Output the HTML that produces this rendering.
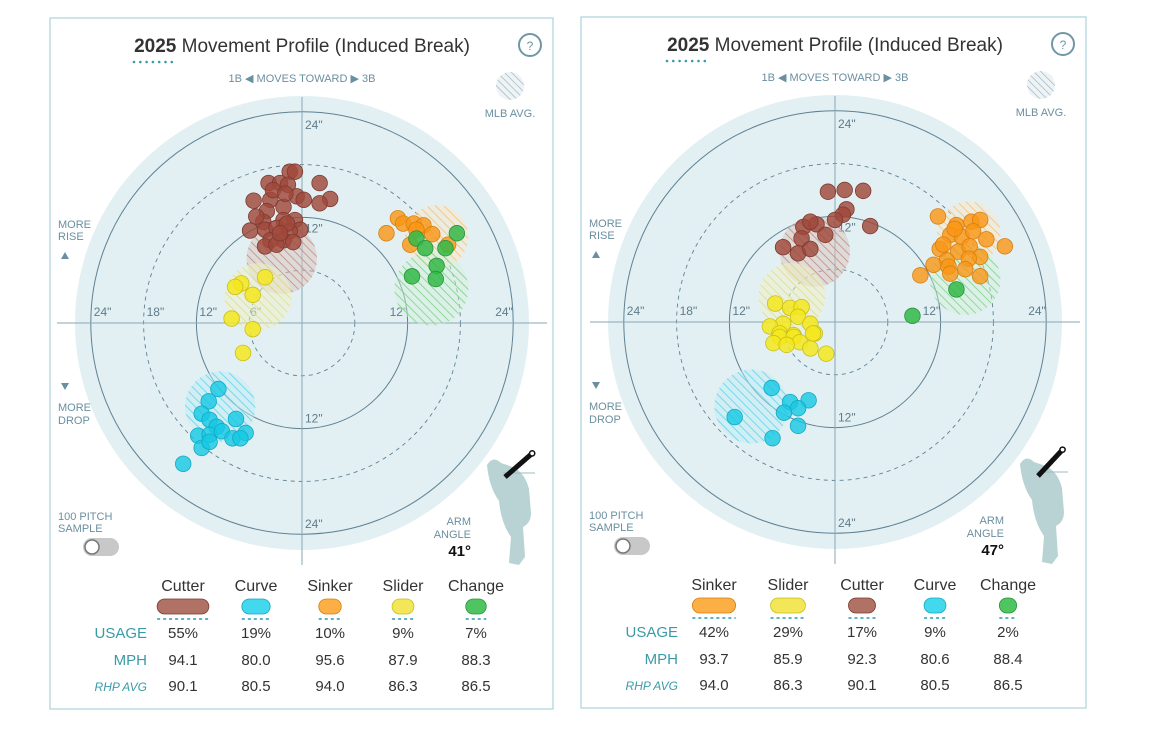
<!DOCTYPE html>
<html><head><meta charset="utf-8">
<style>
html,body{margin:0;padding:0;background:#fff;width:1156px;height:729px;overflow:hidden}
svg{display:block;font-family:"Liberation Sans",sans-serif}
</style></head>
<body>
<svg id="chart" width="1156" height="729" viewBox="0 0 1156 729" xmlns="http://www.w3.org/2000/svg">
<defs>
<pattern id="h-cutter" patternUnits="userSpaceOnUse" width="6" height="6" patternTransform="rotate(-45)"><rect width="6" height="6" fill="rgba(215,190,185,0.45)"/><line x1="0" y1="0" x2="0" y2="6" stroke="#c48a80" stroke-width="1.6"/></pattern>
<pattern id="h-curve" patternUnits="userSpaceOnUse" width="6" height="6" patternTransform="rotate(-45)"><rect width="6" height="6" fill="rgba(190,235,245,0.5)"/><line x1="0" y1="0" x2="0" y2="6" stroke="#5fd3ea" stroke-width="1.6"/></pattern>
<pattern id="h-sinker" patternUnits="userSpaceOnUse" width="6" height="6" patternTransform="rotate(-45)"><rect width="6" height="6" fill="rgba(250,230,200,0.45)"/><line x1="0" y1="0" x2="0" y2="6" stroke="#f5c27a" stroke-width="1.6"/></pattern>
<pattern id="h-slider" patternUnits="userSpaceOnUse" width="6" height="6" patternTransform="rotate(-45)"><rect width="6" height="6" fill="rgba(240,240,200,0.5)"/><line x1="0" y1="0" x2="0" y2="6" stroke="#e3df8a" stroke-width="1.6"/></pattern>
<pattern id="h-change" patternUnits="userSpaceOnUse" width="6" height="6" patternTransform="rotate(-45)"><rect width="6" height="6" fill="rgba(210,240,215,0.45)"/><line x1="0" y1="0" x2="0" y2="6" stroke="#7fd08a" stroke-width="1.6"/></pattern>
<pattern id="h-mlb" patternUnits="userSpaceOnUse" width="5" height="5" patternTransform="rotate(-45)"><rect width="5" height="5" fill="#eef3f5"/><line x1="0" y1="0" x2="0" y2="5" stroke="#9fb6c2" stroke-width="1.4"/></pattern>
</defs>
</svg>
<script>
// ---- data (inches: x horizontal break, y induced vertical break) ----
const leftCutterX=[-1.4,-0.8,2.0,-3.8,-2.5,-1.6,3.2,2.0,-5.5,-3.6,-0.6,0.2,-4.0,-2.1,-4.4,-2.1,-0.8,-0.2,-5.9,-4.2,-2.9,-1.4,-3.6,-2.1,-1.0,-4.2,-2.9,-5.2,-3.3,-1.9,-1.7,-2.5];
const leftCutterY=[17.2,17.2,15.9,15.9,15.9,15.7,14.1,13.6,13.9,14.0,14.4,14.0,12.7,13.2,11.5,11.7,11.7,10.6,10.5,10.6,10.8,10.4,9.4,9.4,9.2,8.7,8.9,12.1,15.1,14.7,11.3,10.2];
const leftSliderX=[-4.2,-6.9,-7.6,-5.6,-8.0,-5.6,-6.7];
const leftSliderY=[5.2,4.5,4.1,3.2,0.5,-0.7,-3.4];
const leftCurveX=[-9.5,-10.6,-11.4,-10.5,-7.5,-9.7,-11.8,-10.5,-9.1,-7.9,-6.4,-7.0,-11.4,-10.5,-13.5];
const leftCurveY=[-7.5,-8.9,-10.3,-11.0,-10.9,-11.8,-12.8,-12.7,-12.3,-13.1,-12.5,-13.1,-14.2,-13.5,-16.0];
const leftSinkerX=[10.9,11.5,9.6,12.7,13.8,14.8,12.3,16.6,13.0];
const leftSinkerY=[11.9,11.3,10.2,11.3,11.1,10.1,8.9,8.9,10.6];
const leftChangeX=[13.0,14.0,16.3,17.6,15.3,12.5,15.2];
const leftChangeY=[9.6,8.5,8.5,10.2,6.5,5.3,5.0];

const rightCutterX=[-0.8,1.1,3.2,1.3,0.9,0,4.0,-3.6,-2.1,-2.8,-1.1,-3.8,-5.9,-4.2,-2.8];
const rightCutterY=[14.8,15.0,14.9,12.8,12.2,11.6,10.9,10.8,11.1,11.4,9.9,9.5,8.5,7.8,8.3];
const rightSliderX=[-6.8,-5.1,-3.8,-4.2,-5.9,-7.4,-2.8,-2.3,-6.3,-4.7,-6.3,-4.7,-4.0,-2.8,-1.0,-7.0,-2.5,-5.5];
const rightSliderY=[2.1,1.6,1.7,0.6,-0.2,-0.5,-0.2,-1.3,-1.3,-1.5,-1.7,-1.7,-2.3,-3.0,-3.6,-2.4,-1.3,-2.6];
const rightCurveX=[-7.2,-5.1,-3.0,-4.2,-5.8,-11.4,-4.2,-7.1];
const rightCurveY=[-7.5,-9.1,-8.9,-9.8,-10.3,-10.8,-11.8,-13.2];
const rightSinkerX=[11.7,13.8,15.5,16.5,13.1,14.4,15.7,17.2,19.3,11.9,14.0,15.3,16.5,15.2,12.7,11.2,12.9,14.8,16.5,9.7,13.1,13.6,12.3];
const rightSinkerY=[12.0,11.0,11.4,11.6,9.9,9.7,10.3,9.4,8.6,8.3,8.0,8.6,7.4,7.2,7.0,6.5,6.3,6.0,5.2,5.3,5.5,10.6,8.8];
const rightChangeX=[13.8,8.8];
const rightChangeY=[3.7,0.7];

// MLB average centers / radii (inches)
const leftAvgPitches=["cutter","slider","curve","sinker","change"];
const leftAvgX=[-2.3,-5.0,-9.3,15.3,14.7];
const leftAvgY=[7.3,3.0,-9.5,9.8,3.9];
const leftAvgR=[4.0,3.8,4.0,3.6,4.2];
const rightAvgPitches=["cutter","slider","curve","sinker","change"];
const rightAvgX=[-2.3,-4.9,-9.5,15.2,14.8];
const rightAvgY=[8.0,2.9,-9.6,10.1,4.8];
const rightAvgR=[4.0,3.8,4.2,3.6,4.0];

// table
const leftNames=["Cutter","Curve","Sinker","Slider","Change"];
const leftUsage=[55,19,10,9,7];
const leftMph=["94.1","80.0","95.6","87.9","88.3"];
const leftRhp=["90.1","80.5","94.0","86.3","86.5"];
const rightNames=["Sinker","Slider","Cutter","Curve","Change"];
const rightUsage=[42,29,17,9,2];
const rightMph=["93.7","85.9","92.3","80.6","88.4"];
const rightRhp=["94.0","86.3","90.1","80.5","86.5"];
const leftArm=41, rightArm=47;

const COL={cutter:["rgba(160,72,58,0.82)","#7d3a30","#b07264"],curve:["rgba(20,200,228,0.8)","#14a8c2","#42d9ee"],sinker:["rgba(250,150,20,0.8)","#d87f10","#fbaf45"],slider:["rgba(245,232,30,0.85)","#c9be1a","#f3e659"],change:["rgba(50,185,70,0.85)","#27933a","#4fc562"]};

const svg=document.getElementById('chart');
const NS="http://www.w3.org/2000/svg";
function mk(tag,attrs,parent,text){const e=document.createElementNS(NS,tag);for(const k in attrs)e.setAttribute(k,attrs[k]);if(text!==undefined)e.textContent=text;(parent||svg).appendChild(e);return e;}

function panel(o){
  const g=mk('g',{});
  
  
  const cx=o.cx,cy=o.cy,S=8.8;
  const sx=v=>cx+v*S, sy=v=>cy-v*S;
  const border=mk('rect',{x:o.x0,y:o.y0,width:o.w,height:o.h,fill:'#fff',stroke:'#a9d3dc','stroke-width':1.2},g);
  
  
  const disc=mk('circle',{cx:cx,cy:cy,r:227,fill:'#e2f0f3'},g);
  
  
  [6,12,18,24].forEach(r=>{
    const c=mk('circle',{cx:cx,cy:cy,r:r*S,fill:'none',stroke:'#5f8193','stroke-width':r%12?0.9:1,'stroke-dasharray':r%12?'4 4':'none'},g);
    
    
  });
  const ax=mk('line',{x1:cx-245,y1:cy,x2:cx+245,y2:cy,stroke:'#8aa6b4','stroke-width':1},g);
  
  
  const ay=mk('line',{x1:cx,y1:cy-226,x2:cx,y2:cy+242,stroke:'#8aa6b4','stroke-width':1},g);
  
  
  const lbl=(x,y,t,n)=>{const e=mk('text',{x:x,y:y,'font-size':12,fill:'#5f7c8a'},g,t);};
  [-24,-18,-12,-6,12,24].forEach(v=>lbl(sx(v)+(v<0?3:-18)+(v===-6?-2:0),cy-7,Math.abs(v)+'"','x-tick-label'));
  lbl(cx+3,sy(24)+17,'24"','y-tick-label');lbl(cx+3,sy(12)+15,'12"','y-tick-label');
  lbl(cx+3,sy(-12)-6,'12"','y-tick-label');lbl(cx+3,sy(-24)-6,'24"','y-tick-label');
  o.avgP.forEach((p,i)=>{
    const c=mk('circle',{cx:sx(o.avgX[i]),cy:sy(o.avgY[i]),r:o.avgR[i]*S,fill:'url(#h-'+p+')'},g);
    
    
  });
  o.series.forEach(s=>{
    s.x.forEach((xv,i)=>{
      const c=mk('circle',{cx:sx(xv),cy:sy(s.y[i]),r:7.8,fill:COL[s.p][0],stroke:COL[s.p][1],'stroke-width':0.8},g);
      
      
    });
  });
  const t=mk('text',{x:cx,y:o.y0+34,'text-anchor':'middle','font-size':19,fill:'#333'},g);
  
  
  mk('tspan',{'font-weight':'bold'},t,'2025');mk('tspan',{},t,' Movement Profile (Induced Break)');
  for(let i=0;i<7;i++)mk('circle',{cx:cx-168+i*6.3,cy:o.y0+44,r:1.3,fill:'#3a9aa8'},g);
  const hb=mk('g',{},g);
  mk('circle',{cx:o.x0+o.w-23,cy:o.y0+27,r:11,fill:'#fff',stroke:'#6f97a6','stroke-width':2},hb);
  mk('text',{x:o.x0+o.w-23,y:o.y0+32,'text-anchor':'middle','font-size':12,fill:'#6f97a6'},hb,'?');
  const mt=mk('text',{x:cx,y:o.y0+64,'text-anchor':'middle','font-size':11,fill:'#6a8fa0'},g,'1B \u25C0  MOVES TOWARD  \u25B6 3B');
  
  const mi=mk('circle',{cx:o.x0+460,cy:o.y0+68,r:14,fill:'url(#h-mlb)'},g);
  
  const ml=mk('text',{x:o.x0+460,y:o.y0+99,'text-anchor':'middle','font-size':11,fill:'#6a8fa0'},g,'MLB AVG.');
  
  const side=(y,t,n)=>{const e=mk('text',{x:o.x0+8,y:y,'font-size':11,fill:'#6a8fa0'},g,t);};
  side(cy-95,'MORE','more-rise-label');side(cy-83,'RISE','more-rise-label');
  mk('path',{d:`M${o.x0+11} ${cy-64} l4 -7 l4 7z`,fill:'#6a8fa0'},g);
  mk('path',{d:`M${o.x0+11} ${cy+60} l4 7 l4 -7z`,fill:'#6a8fa0'},g);
  side(cy+88,'MORE','more-drop-label');side(cy+101,'DROP','more-drop-label');
  side(cy+197,'100 PITCH','sample-label');side(cy+209,'SAMPLE','sample-label');
  const tg=mk('g',{},g);
  mk('rect',{x:o.x0+33,y:cy+215,width:36,height:18,rx:9,fill:'#c8c8c8'},tg);
  mk('circle',{cx:o.x0+42,cy:cy+224,r:7,fill:'#fff',stroke:'#777','stroke-width':1.5},tg);
  const pf=mk('g',{},g);
  const fx=o.x0+o.w-70, fy=cy+130;
  mk('path',{d:`M${fx+4} ${fy+12} q6 -10 14 -2 l12 4 q12 6 16 22 l2 24 q0 10 -8 14 l2 30 l-6 8 l-10 -2 l2 -26 q-10 -14 -12 -36 q-10 -14 -12 -36z`,fill:'#b9d3d4'},pf);
  mk('line',{x1:fx+20,y1:fy+20,x2:fx+52,y2:fy+20,stroke:'#9fb8c2','stroke-width':1},pf);
  const ang=o.arm*Math.PI/180;
  mk('line',{x1:fx+22,y1:fy+24,x2:fx+22+34*Math.cos(ang),y2:fy+24-34*Math.sin(ang),stroke:'#111','stroke-width':5},pf);
  mk('circle',{cx:fx+22+36*Math.cos(ang),cy:fy+24-36*Math.sin(ang),r:2.6,fill:'#fff',stroke:'#111','stroke-width':1.5},pf);
  const at=(y,t,n,s,w,c)=>{const e=mk('text',{x:fx-12,y:y,'text-anchor':'end','font-size':s,'font-weight':w,fill:c},g,t);};
  at(cy+202,'ARM','arm-angle-label',11,'normal','#6a8fa0');at(cy+215,'ANGLE','arm-angle-label',11,'normal','#6a8fa0');
  at(cy+233,o.arm+'\u00B0','arm-angle-value',15,'bold','#111');
  const rows=[['USAGE',o.ty+47,15,'normal'],['MPH',o.ty+74,15,'normal'],['RHP AVG',o.ty+100,12,'italic']];
  rows.forEach(r=>{const e=mk('text',{x:o.lx,y:r[1],'text-anchor':'end','font-size':r[2],'font-style':r[3],fill:'#3a9aa8'},g,r[0]);});
  o.names.forEach((n,i)=>{
    const x=o.cols[i], key=n.toLowerCase();
    const nt=mk('text',{x:x,y:o.ty,'text-anchor':'middle','font-size':16,fill:'#333'},g,n);
    
    const pw=16+o.usage[i]*0.65;
    const pill=mk('rect',{x:x-pw/2,y:o.ty+8,width:pw,height:15,rx:7.5,fill:COL[key][2],stroke:COL[key][1],'stroke-width':0.8},g);
    
    mk('line',{x1:x-pw/2,y1:o.ty+28,x2:x+pw/2,y2:o.ty+28,stroke:'#5fb4c4','stroke-width':2,'stroke-dasharray':'3 3'},g);
    const vals=[o.usage[i]+'%',o.mph[i],o.rhp[i]];
    vals.forEach((v,j)=>{const e=mk('text',{x:x,y:rows[j][1],'text-anchor':'middle','font-size':15,fill:'#333'},g,v);});
  });
}

panel({name:'left-panel',x0:50,y0:18,w:503,h:691,cx:302,cy:323,arm:leftArm,ty:591,lx:147,cols:[183,256,330,403,476],
  names:leftNames,usage:leftUsage,mph:leftMph,rhp:leftRhp,
  avgP:leftAvgPitches,avgX:leftAvgX,avgY:leftAvgY,avgR:leftAvgR,
  series:[{p:'cutter',x:leftCutterX,y:leftCutterY},{p:'slider',x:leftSliderX,y:leftSliderY},{p:'curve',x:leftCurveX,y:leftCurveY},{p:'sinker',x:leftSinkerX,y:leftSinkerY},{p:'change',x:leftChangeX,y:leftChangeY}]});
panel({name:'right-panel',x0:581,y0:17,w:505,h:691,cx:835,cy:322,arm:rightArm,ty:590,lx:678,cols:[714,788,862,935,1008],
  names:rightNames,usage:rightUsage,mph:rightMph,rhp:rightRhp,
  avgP:rightAvgPitches,avgX:rightAvgX,avgY:rightAvgY,avgR:rightAvgR,
  series:[{p:'cutter',x:rightCutterX,y:rightCutterY},{p:'slider',x:rightSliderX,y:rightSliderY},{p:'curve',x:rightCurveX,y:rightCurveY},{p:'sinker',x:rightSinkerX,y:rightSinkerY},{p:'change',x:rightChangeX,y:rightChangeY}]});
</script>
</body></html>
